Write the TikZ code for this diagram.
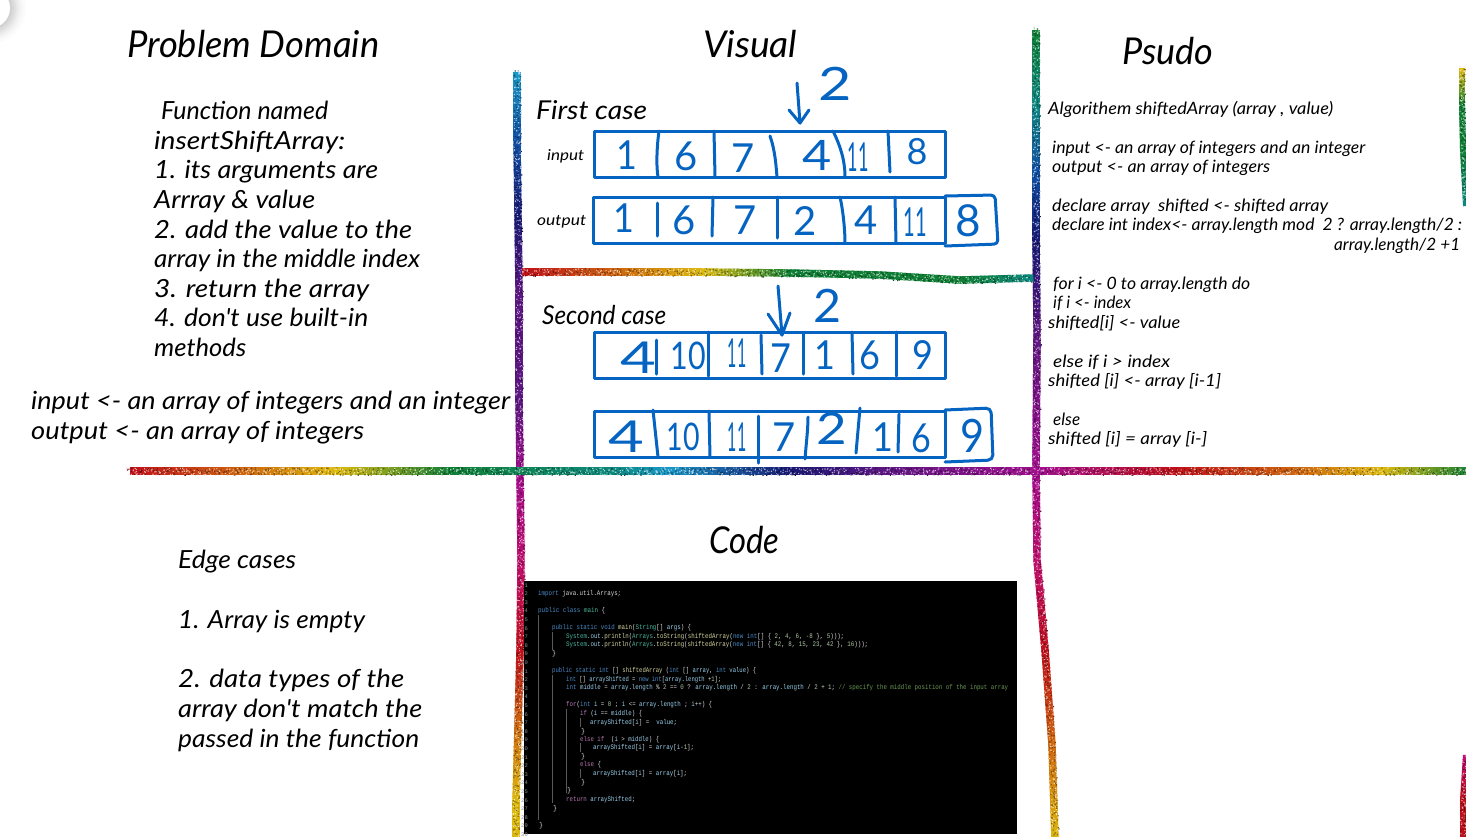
\documentclass[tikz,border=0pt]{standalone}
\usepackage{fontspec}
\usepackage{graphicx}
\newfontfamily\handf{Lato}
\newfontfamily\digf{Lato}
\newfontfamily\codef{Liberation Mono}
\definecolor{ink}{HTML}{0563C1}
\definecolor{rR}{HTML}{C0101A}
\definecolor{rO}{HTML}{D06A0C}
\definecolor{rY}{HTML}{DDB90C}
\definecolor{rG}{HTML}{0F8036}
\definecolor{rT}{HTML}{0C8A80}
\definecolor{rC}{HTML}{1898C8}
\definecolor{rB}{HTML}{1050A6}
\definecolor{rN}{HTML}{181874}
\definecolor{rP}{HTML}{5E1684}
\definecolor{rM}{HTML}{A40E8E}
\definecolor{rK}{HTML}{C40E70}
\definecolor{cK}{HTML}{4A8CC8}
\definecolor{cP}{HTML}{B878B4}
\definecolor{cT}{HTML}{48B89E}
\definecolor{cF}{HTML}{D4D4A0}
\definecolor{cV}{HTML}{98D0EC}
\definecolor{cC}{HTML}{6A9A54}
\definecolor{cN}{HTML}{B0C8A4}
\definecolor{cD}{HTML}{D8D8D8}
\newsavebox\txbox
\newcounter{txc}
\def\dy{1}
\newcommand\tx[5]{%
  \stepcounter{txc}%
  \node[inner sep=0pt,anchor=base west] (t\thetxc) at (#2,{#3+\dy}) {%
    \sbox\txbox{#1#5}%
    \pgfmathsetmacro\txs{#4/\the\wd\txbox}%
    \scalebox{\txs}[1]{\usebox\txbox}};%
}
\newcommand\hh[1]{\handf\itshape\fontsize{#1}{#1}\selectfont}
\newcommand\cc{\codef\fontsize{7}{8}\selectfont\color{cD}}
\newcommand\K[1]{\textcolor{cK}{#1}}
\newcommand\Pu[1]{\textcolor{cP}{#1}}
\newcommand\Te[1]{\textcolor{cT}{#1}}
\newcommand\Fn[1]{\textcolor{cF}{#1}}
\newcommand\Va[1]{\textcolor{cV}{#1}}
\newcommand\Cm[1]{\textcolor{cC}{#1}}
\newcommand\Nu[1]{\textcolor{cN}{#1}}
\newcommand\cl[4]{\tx{\cc}{#1}{#3}{#2}{#4}}
% digit: [size]{x}{y}{x-scale}{text}
\newcommand\dg[5][40]{%
  \stepcounter{txc}%
  \node[inner sep=0pt,text=ink,font=\digf\fontsize{#1}{#1}\selectfont] (t\thetxc) at (#2,#3) {\scalebox{#4}[1]{#5}};%
}
% rainbow glitter stroke: list of x/y/colour stations
\newcommand\rb[2][3.7]{%
  \foreach \x/\y/\c [remember=\x as \px, remember=\y as \py, remember=\c as \pc, count=\i] in {#2} {%
    \ifnum\i>1
      \pgfmathsetmacro\len{veclen(\x-\px,\y-\py)}%
      \pgfmathtruncatemacro\n{max(1,\len/4)}%
      \foreach \k in {1,...,\n} {%
        \pgfmathsetmacro\ta{(\k-1)/\n}%
        \pgfmathsetmacro\tb{\k/\n}%
        \pgfmathsetmacro\pct{100*\ta}%
        \colorlet{seg}{\c!\pct!\pc}%
        \draw[seg,line width=2*#1] ({\px+(\x-\px)*\ta},{\py+(\y-\py)*\ta}) -- ({\px+(\x-\px)*(\tb+0.02)},{\py+(\y-\py)*(\tb+0.02)});%
        \pgfmathsetmacro\mx{\px+(\x-\px)*\ta}%
        \pgfmathsetmacro\my{\py+(\y-\py)*\ta}%
        \fill[seg!35!white] ({\mx+#1*rand},{\my+#1*rand}) rectangle +(1.1,1.1) ({\mx+#1*rand},{\my+#1*rand}) rectangle +(1.1,1.1) ({\mx+#1*rand},{\my+#1*rand}) rectangle +(1.1,1.1) ({\mx+#1*rand},{\my+#1*rand}) rectangle +(1.1,1.1);%
        \fill[seg!60!black] ({\mx+#1*rand},{\my+#1*rand}) rectangle +(1.2,1.2) ({\mx+#1*rand},{\my+#1*rand}) rectangle +(1.2,1.2) ({\mx+#1*rand},{\my+#1*rand}) rectangle +(1.2,1.2);%
      }%
    \fi
  }%
}
\tikzset{arr/.style={draw=ink,line width=3pt,line cap=round,line join=round},
         guide/.style={draw=black!65!white,line width=0.6pt}}
\begin{document}
\begin{tikzpicture}[x=1pt,y=-1pt]
\pgfmathsetseed{4242}
\useasboundingbox (0,0) rectangle (1466,836);
\clip (0,0) rectangle (1466,836);
\fill[white] (0,0) rectangle (1466,836);
% corner circle with shadow
\foreach \r/\g in {36/1,34/2,32/4,30/6,28/9,26/12,24/15,22/18} {\fill[black!\g!white] (-10,8) circle (\r);}
\fill[white] (-10,8) circle (20);
% rainbow lines
\rb{517/72/rC, 517/140/rB, 518/215/rN, 519/290/rP, 519/400/rP, 520/471/rM, 521/560/rK, 520/650/rR, 518/725/rO, 516/800/rY, 516/840/rY}
\rb{1036/30/rG, 1036/100/rT, 1036/170/rB, 1036/240/rN, 1037/330/rP, 1036/470/rM, 1037/560/rK, 1045/650/rR, 1052/745/rO, 1055/840/rY}
\rb[3]{1462/68/rY, 1462/105/rG, 1463/150/rG, 1466/205/rT}
\rb[3]{1466/755/rK, 1463/800/rR, 1463/840/rR}
\rb{522/272/rR, 620/272/rO, 700/272/rY, 790/273/rG, 880/275/rG, 960/280/rG, 1032/278/rT}
\rb{130/471/rR, 248/471/rO, 335/471/rY, 448/471/rG, 614/471/rT, 666/471/rC, 788/471/rN, 884/471/rP, 1040/471/rM, 1171/471/rR, 1302/471/rO, 1380/471/rY, 1470/471/rG}
% headings
\tx{\hh{37}}{127}{56}{252}{Problem Domain}
\tx{\hh{37}}{703}{56}{94}{Visual}
\tx{\hh{37}}{1122}{63}{91}{Psudo}
\tx{\hh{37}}{709}{552}{70}{Code}
% problem domain
\tx{\hh{25}}{161}{118}{167}{Function named}
\tx{\hh{25}}{154}{148}{191}{insertShiftArray:}
\tx{\hh{25}}{154}{177}{224}{1. its arguments are}
\tx{\hh{25}}{154}{207}{161}{Arrray \& value}
\tx{\hh{25}}{154}{237}{258}{2. add the value to the}
\tx{\hh{25}}{154}{266}{266}{array in the middle index}
\tx{\hh{25}}{154}{296}{215}{3. return the array}
\tx{\hh{25}}{154}{325}{214}{4. don't use built-in}
\tx{\hh{25}}{154}{355}{92}{methods}
\tx{\hh{25}}{31}{408}{479}{input <- an array of integers and an integer}
\tx{\hh{25}}{31}{438}{333}{output <- an array of integers}
% edge cases
\tx{\hh{25}}{178}{567}{118}{Edge cases}
\tx{\hh{25}}{178}{627}{187}{1. Array is empty}
\tx{\hh{25}}{178}{686}{226}{2. data types of the}
\tx{\hh{25}}{178}{716}{244}{array don't match the}
\tx{\hh{25}}{178}{746}{241}{passed in the function}
% visual labels
\tx{\hh{26}}{536}{118}{111}{First case}
\tx{\hh{26}}{542}{323}{124}{Second case}
\tx{\hh{15}}{547}{159}{37}{input}
\tx{\hh{15}}{537}{224}{49}{output}
% pseudo
\tx{\hh{17}}{1048}{113}{285}{Algorithem shiftedArray (array , value)}
\tx{\hh{17}}{1052}{152}{313}{input <- an array of integers and an integer}
\tx{\hh{17}}{1052}{171}{218}{output <- an array of integers}
\tx{\hh{17}}{1052}{210}{276}{declare array\ \ shifted <- shifted array}
\tx{\hh{17}}{1052}{229}{410}{declare int index<- array.length mod\ \ 2 ? array.length/2 :}
\tx{\hh{17}}{1334}{249}{126}{array.length/2 +1}
\tx{\hh{17}}{1053}{288}{197}{for i <- 0 to array.length do}
\tx{\hh{17}}{1053}{307}{78}{if i <- index}
\tx{\hh{17}}{1048}{327}{132}{shifted[i] <- value}
\tx{\hh{17}}{1053}{366}{117}{else if i > index}
\tx{\hh{17}}{1048}{385}{173}{shifted [i] <- array [i-1]}
\tx{\hh{17}}{1053}{424}{27}{else}
\tx{\hh{17}}{1048}{443}{159}{shifted [i] = array [i-]}
% arrays: first case
\draw[arr] (594,131) rectangle (945,177);
\draw[arr] (659,131) .. controls (657,145) and (656,165) .. (658,177);
\draw[arr] (714,131) -- (715,177);
\draw[arr] (770,136) .. controls (775,150) and (776,165) .. (777,177);
\draw[arr] (833,131) .. controls (840,145) and (845,160) .. (845,177);
\draw[arr] (888,131) -- (890,172);
\draw[arr] (593,197) rectangle (945,243);
\draw[arr] (657,203) -- (657,236);
\draw[arr] (713,197) -- (712,236);
\draw[arr] (777,197) -- (777,238);
\draw[arr] (840,197) .. controls (843,210) and (845,230) .. (845,243);
\draw[arr] (895,197) -- (896,243);
\draw[arr,rounded corners=4pt] (945,196) -- (995,195) -- (998,244) -- (945,246);
\dg{627}{155}{0.9}{1}\dg{686}{156}{1}{6}\dg{743}{158}{1}{7}\dg[42]{817}{155}{1.2}{4}\dg{858}{157}{0.45}{11}\dg[36]{917}{152}{1}{8}
\dg{624}{218}{0.9}{1}\dg{684}{220}{1}{6}\dg{745}{220}{1}{7}\dg{805}{221}{1}{2}\dg{866}{220}{1}{4}\dg{915}{222}{0.5}{11}
\dg[44]{968}{221}{1}{8}
\draw[arr] (797,83) -- (800,123);
\draw[arr] (789,110) -- (800,123) -- (809,110);
\dg[46]{835}{84}{1.25}{2}
% arrays: second case
\draw[arr] (594,332) rectangle (945,378);
\draw[arr] (656,340) -- (656,374);
\draw[arr] (708,332) -- (708,376);
\draw[arr] (761,335) -- (762,374);
\draw[arr] (803,334) -- (803,374);
\draw[arr] (852,332) -- (853,374);
\draw[arr] (896,332) -- (896,376);
\dg[44]{638}{358}{1.4}{4}\dg[38]{688}{356}{0.8}{10}\dg{737}{353}{0.4}{11}\dg{781}{358}{0.9}{7}\dg{825}{355}{0.9}{1}\dg{870}{355}{0.9}{6}\dg{923}{355}{0.9}{9}
\draw[arr] (778,286) -- (782,335);
\draw[arr] (768,314) -- (782,335) -- (790,313);
\dg[46]{827}{306}{1.05}{2}
\draw[arr] (594,411) rectangle (945,457);
\draw[arr] (653,410) -- (658,457);
\draw[arr] (709,411) -- (710,457);
\draw[arr] (758,416) -- (758,463);
\draw[arr] (808,417) .. controls (808,430) and (806,445) .. (805,459);
\draw[arr] (860,408) -- (856,453);
\draw[arr] (899,414) -- (898,452);
\draw[arr,rounded corners=5pt] (945,410) -- (991,408) -- (993,460) -- (945,462);
\dg[44]{626}{437}{1.4}{4}\dg[38]{683}{437}{0.75}{10}\dg{737}{437}{0.4}{11}\dg{784}{437}{1}{7}\dg[44]{832}{429}{1.2}{2}\dg{883}{437}{0.9}{1}\dg{921}{438}{0.85}{6}\dg[46]{972}{436}{0.9}{9}
% code panel
\fill[black] (524,581) rectangle (1017,834);
\foreach \nn [evaluate=\nn as \ny using 587+8.6*(\nn-1)] in {1,...,30} {\node[inner sep=0pt,anchor=base east,text=black!45!white,font=\codef\fontsize{5.5}{6}\selectfont] (ln\nn) at (528,\ny) {\nn};}
\draw[guide] (538,615) -- (538,820);
\draw[guide] (552,632) -- (552,650) (552,675) -- (552,803);
\draw[guide] (566,709) -- (566,793);
\draw[guide] (580,718) -- (580,727) (580,743) -- (580,752) (580,769) -- (580,778);
\def\dy{0}
\cl{538}{83}{595}{\K{import} java.util.Arrays;}
\cl{538}{67}{612}{\K{public class} \Te{main} \{}
\cl{552}{139}{629}{\K{public static void} \Fn{main}(\Te{String}[] \Va{args}) \{}
\cl{566}{278}{638}{\Te{System}.\Va{out}.\Fn{println}(\Te{Arrays}.\Fn{toString}(\Fn{shiftedArray}(\K{new int}[] \{ \Nu{2}, \Nu{4}, \Nu{6}, \Nu{-8} \}, \Nu{5})));}
\cl{566}{302}{646}{\Te{System}.\Va{out}.\Fn{println}(\Te{Arrays}.\Fn{toString}(\Fn{shiftedArray}(\K{new int}[] \{ \Nu{42}, \Nu{8}, \Nu{15}, \Nu{23}, \Nu{42} \}, \Nu{16})));}
\cl{552}{4}{655}{\}}
\cl{552}{204}{672}{\K{public static int} [] \Fn{shiftedArray} (\K{int} [] \Va{array}, \K{int} \Va{value}) \{}
\cl{566}{155}{681}{\K{int} [] \Va{arrayShifted} = \K{new int}[\Va{array}.\Va{length} +\Nu{1}];}
\cl{566}{442}{689}{\K{int} \Va{middle} = \Va{array}.\Va{length} \% \Nu{2} == \Nu{0} ? \Va{array}.\Va{length} / \Nu{2} : \Va{array}.\Va{length} / \Nu{2} + \Nu{1}; \Cm{// specify the middle position of the input array}}
\cl{566}{146}{706}{\Pu{for}(\K{int} \Va{i} = \Nu{0} ; \Va{i} <= \Va{array}.\Va{length} ; \Va{i}++) \{}
\cl{580}{62}{715}{\Pu{if} (\Va{i} == \Va{middle}) \{}
\cl{590}{87}{724}{\Va{arrayShifted}[\Va{i}] =\ \ \Va{value};}
\cl{581}{4}{733}{\}}
\cl{580}{79}{741}{\Pu{else if}\ \ (\Va{i} > \Va{middle}) \{}
\cl{593}{101}{749}{\Va{arrayShifted}[\Va{i}] = \Va{array}[\Va{i}-\Nu{1}];}
\cl{581}{4}{758}{\}}
\cl{580}{21}{766}{\Pu{else} \{}
\cl{593}{94}{775}{\Va{arrayShifted}[\Va{i}] = \Va{array}[\Va{i}];}
\cl{581}{4}{784}{\}}
\cl{567}{4}{792}{\}}
\cl{566}{69}{801}{\Pu{return} \Va{arrayShifted};}
\cl{553}{4}{810}{\}}
\cl{539}{4}{827}{\}}
\end{tikzpicture}
\end{document}
